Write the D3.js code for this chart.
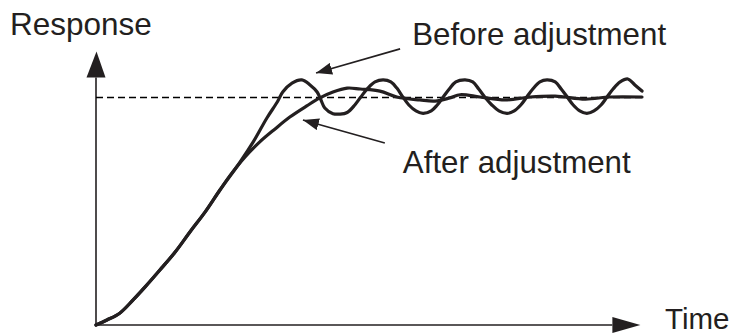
<!DOCTYPE html>
<html>
<head>
<meta charset="utf-8">
<script src="https://cdn.jsdelivr.net/npm/d3@7"></script>
<style>
  html, body { margin: 0; padding: 0; background: #fff; }
  svg { display: block; }
  text { font-family: "Liberation Sans", Arial, Helvetica, sans-serif; fill: #231f20; }
</style>
</head>
<body>
<svg id="chart" width="735" height="335"></svg>
<script>
// ---- data (time in arbitrary units, response normalised to set point = 1) ----
const beforeT = [0,0.20,0.44,0.68,0.90,1.17,1.45,1.72,2.00,2.27,2.64,2.88,3.13,3.32,3.42,3.59,3.77,3.92,4.05,4.12,4.19,4.34,4.47,4.60,4.74,4.85,4.98,5.11,5.26,5.40,5.51,5.62,5.73,5.86,5.99,6.14,6.25,6.36,6.47,6.59,6.76,6.90,7.01,7.12,7.25,7.38,7.53,7.66,7.78,7.89,8.00,8.13,8.26,8.41,8.52,8.63,8.74,8.86,8.99,9.12,9.25,9.36,9.47,9.60,9.74,9.87,10.0];
const beforeR = [0,0.022,0.053,0.110,0.167,0.241,0.320,0.408,0.496,0.592,0.715,0.803,0.908,0.978,1.022,1.061,1.075,1.053,1.022,0.987,0.952,0.927,0.925,0.932,0.965,1.0,1.039,1.066,1.075,1.066,1.039,1.0,0.965,0.939,0.928,0.939,0.965,1.0,1.035,1.066,1.075,1.066,1.035,1.0,0.965,0.939,0.928,0.939,0.965,1.0,1.035,1.066,1.075,1.066,1.035,1.0,0.965,0.939,0.928,0.939,0.965,1.0,1.035,1.066,1.079,1.053,1.026];

const afterT = [0,0.20,0.44,0.68,0.90,1.17,1.45,1.72,2.00,2.27,2.45,2.73,3.00,3.28,3.55,3.86,4.10,4.34,4.60,4.84,5.20,5.51,5.93,6.21,6.48,6.67,7.03,7.49,7.95,8.41,8.96,9.41,10.0];
const afterR = [0,0.022,0.053,0.110,0.167,0.241,0.320,0.408,0.496,0.592,0.654,0.737,0.803,0.860,0.912,0.961,0.996,1.022,1.039,1.035,1.026,1.0,0.987,0.982,0.996,1.010,1.0,0.987,1.0,1.004,0.991,1.0,1.0];

const setPoint = 1.0;
const axisMaxT = 9.97;
const axisMaxR = 1.2;

const axisLabels = ["Response", "Time"];
const annotLabels = ["Before adjustment", "After adjustment"];
// arrow tail (t,r), arrow tip (t,r), label anchor (t,r)
const annotTail = [[5.57, 1.211], [5.29, 0.798]];
const annotTip  = [[4.03, 1.105], [3.79, 0.899]];
const annotText = [[5.79, 1.228], [5.62, 0.667]];

// ---- drawing ----
const ink = "#231f20";
const svg = d3.select("#chart");
const x = d3.scaleLinear().domain([0, 10]).range([96, 642]);
const y = d3.scaleLinear().domain([0, 1]).range([325, 97]);

const defs = svg.append("defs");
defs.append("marker")
  .attr("id", "ah").attr("viewBox", "0 0 16 12")
  .attr("refX", 16).attr("refY", 6)
  .attr("markerWidth", 16).attr("markerHeight", 12)
  .attr("markerUnits", "userSpaceOnUse")
  .attr("orient", "auto")
  .append("path").attr("d", "M0,0 L16,6 L0,12 Z").attr("fill", ink);

// Y axis with arrowhead
const yTip = y(axisMaxR);
svg.append("line").attr("x1", x(0)).attr("x2", x(0))
  .attr("y1", y(0)).attr("y2", yTip + 26)
  .attr("stroke", ink).attr("stroke-width", 1.6);
svg.append("path")
  .attr("d", `M${x(0) - 9.5},${yTip + 26} L${x(0) + 9.5},${yTip + 26} L${x(0) + 0.5},${yTip} Z`)
  .attr("fill", ink);

// X axis with arrowhead
const xTip = x(axisMaxT);
svg.append("line").attr("x1", x(0)).attr("x2", xTip - 28)
  .attr("y1", y(0)).attr("y2", y(0))
  .attr("stroke", ink).attr("stroke-width", 1.6);
svg.append("path")
  .attr("d", `M${xTip - 28},${y(0) - 8} L${xTip - 28},${y(0) + 8} L${xTip},${y(0)} Z`)
  .attr("fill", ink);

// set point dashed line
svg.append("line").attr("x1", x(0)).attr("x2", x(10))
  .attr("y1", y(setPoint) + 0.5).attr("y2", y(setPoint) + 0.5)
  .attr("stroke", "#000").attr("stroke-width", 1.4)
  .attr("stroke-dasharray", "7,4");

// curves
const line = d3.line().x(d => x(d[0])).y(d => y(d[1])).curve(d3.curveCatmullRom.alpha(0.5));
const beforeData = beforeT.map((t, i) => [t, beforeR[i]]);
const afterData = afterT.map((t, i) => [t, afterR[i]]);

svg.append("path").datum(afterData).attr("d", line)
  .attr("fill", "none").attr("stroke", ink).attr("stroke-width", 3.2)
  .attr("stroke-linejoin", "round").attr("stroke-linecap", "round");
svg.append("path").datum(beforeData).attr("d", line)
  .attr("fill", "none").attr("stroke", ink).attr("stroke-width", 3.2)
  .attr("stroke-linejoin", "round").attr("stroke-linecap", "round");

// annotations
annotLabels.forEach((lbl, i) => {
  svg.append("line")
    .attr("x1", x(annotTail[i][0])).attr("y1", y(annotTail[i][1]))
    .attr("x2", x(annotTip[i][0])).attr("y2", y(annotTip[i][1]))
    .attr("stroke", ink).attr("stroke-width", 1.6)
    .attr("marker-end", "url(#ah)");
  svg.append("text")
    .attr("x", x(annotText[i][0])).attr("y", y(annotText[i][1]))
    .attr("font-size", 31.3)
    .text(lbl);
});

// axis titles
svg.append("text").attr("x", 10).attr("y", 35).attr("font-size", 31.5).text(axisLabels[0]);
svg.append("text").attr("x", 665).attr("y", 329).attr("font-size", 29.5).text(axisLabels[1]);
</script>
</body>
</html>
